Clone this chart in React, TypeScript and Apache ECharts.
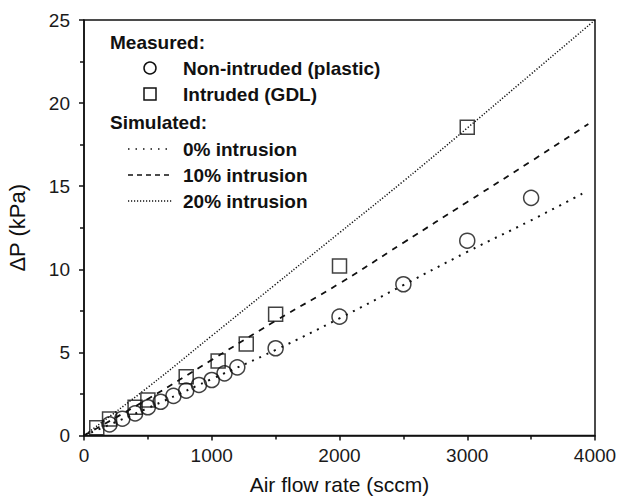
import React, { useEffect, useRef } from "react";
import * as echarts from "echarts";

const circleX = [200, 300, 400, 500, 600, 700, 800, 900, 1000, 1100, 1200, 1500, 2000, 2500, 3000, 3500];
const circleY = [0.67, 1.01, 1.33, 1.7, 2.03, 2.38, 2.7, 3.04, 3.34, 3.74, 4.1, 5.25, 7.15, 9.1, 11.72, 14.3];

const squareX = [100, 200, 400, 500, 800, 1050, 1270, 1500, 2000, 3000];
const squareY = [0.47, 1.0, 1.7, 2.14, 3.54, 4.48, 5.5, 7.29, 10.2, 18.54];

const sim0X = [0, 500, 1000, 1500, 2000, 2500, 3000, 3500, 3900];
const sim0Y = [0, 1.65, 3.4, 5.15, 7.05, 9.05, 11.05, 12.95, 14.55];

const sim10X = [0, 500, 1000, 1500, 2000, 2500, 3000, 3500, 3948];
const sim10Y = [0, 2.2, 4.55, 6.9, 9.15, 11.6, 14.05, 16.5, 18.74];

const sim20X = [0, 500, 1000, 1500, 2000, 2500, 3000, 3500, 4000];
const sim20Y = [0, 2.9, 6.0, 9.1, 12.2, 15.3, 18.5, 21.75, 25];

const legendTitles = ["Measured:", "Simulated:"];
const legendItems = ["Non-intruded (plastic)", "Intruded (GDL)", "0% intrusion", "10% intrusion", "20% intrusion"];

const zip = (xs: number[], ys: number[]) => xs.map((x, i) => [x, ys[i]]);

export default function App() {
  const ref = useRef<HTMLDivElement>(null);
  useEffect(() => {
    if (!ref.current) return;
    const chart = echarts.init(ref.current, undefined, { renderer: "svg" });
    const font = "Arial, 'Liberation Sans', sans-serif";
    const lx = 128, lx2 = 172, sx = 150, tx = 183;
    const rows = [42, 68, 94, 122, 149, 175, 201];
    const legendText = (x: number, y: number, t: string) => ({
      type: "text",
      x,
      y,
      style: { text: t, font: `bold 19px ${font}`, fill: "#111", textVerticalAlign: "middle" },
    });
    const tickStyle = { color: "#111", width: 1.5 };
    chart.setOption({
      animation: false,
      backgroundColor: "#fff",
      grid: {
        left: 84,
        right: 24,
        top: 20,
        bottom: 62.5,
        containLabel: false,
        outerBoundsMode: "none",
        show: true,
        borderColor: "#111",
        borderWidth: 1.5,
      },
      xAxis: {
        type: "value",
        min: 0,
        max: 4000,
        interval: 1000,
        name: "Air flow rate (sccm)",
        nameLocation: "middle",
        nameGap: 38,
        nameTextStyle: { fontSize: 21, color: "#111", fontFamily: font },
        axisLine: { show: true, onZero: false, lineStyle: tickStyle },
        axisTick: { show: true, inside: false, length: 5, lineStyle: tickStyle },
        minorTick: { show: true, splitNumber: 2, length: 4, lineStyle: tickStyle },
        axisLabel: { fontSize: 19, color: "#1a1a1a", fontFamily: font, margin: 10, formatter: (v: number) => String(v) },
        splitLine: { show: false },
      },
      yAxis: {
        type: "value",
        min: 0,
        max: 25,
        interval: 5,
        name: "ΔP (kPa)",
        nameLocation: "middle",
        nameGap: 56,
        nameTextStyle: { fontSize: 22, color: "#111", fontFamily: font },
        axisLine: { show: true, onZero: false, lineStyle: tickStyle },
        axisTick: { show: true, inside: false, length: 5, lineStyle: tickStyle },
        minorTick: { show: true, splitNumber: 2, length: 4, lineStyle: tickStyle },
        axisLabel: { fontSize: 19, color: "#1a1a1a", fontFamily: font, margin: 14, formatter: (v: number) => String(v) },
        splitLine: { show: false },
      },
      series: [
        {
          name: legendItems[2],
          type: "line",
          data: zip(sim0X, sim0Y),
          smooth: true,
          showSymbol: false,
          lineStyle: { color: "#111", width: 2, type: [2, 6] },
          z: 2,
        },
        {
          name: legendItems[3],
          type: "line",
          data: zip(sim10X, sim10Y),
          smooth: true,
          showSymbol: false,
          lineStyle: { color: "#111", width: 1.8, type: [6, 6] },
          z: 2,
        },
        {
          name: legendItems[4],
          type: "line",
          data: zip(sim20X, sim20Y),
          smooth: true,
          showSymbol: false,
          lineStyle: { color: "#111", width: 1.5, type: [1.2, 1.8] },
          z: 2,
        },
        {
          name: legendItems[0],
          type: "scatter",
          data: zip(circleX, circleY),
          symbol: "circle",
          symbolSize: 15,
          itemStyle: { color: "rgba(255,255,255,0)", borderColor: "#111", borderWidth: 1.5 },
          z: 3,
        },
        {
          name: legendItems[1],
          type: "scatter",
          data: zip(squareX, squareY),
          symbol: "rect",
          symbolSize: 14,
          itemStyle: { color: "rgba(255,255,255,0)", borderColor: "#111", borderWidth: 1.5 },
          z: 3,
        },
      ],
      graphic: [
        legendText(110, rows[0], legendTitles[0]),
        { type: "circle", shape: { cx: sx, cy: rows[1], r: 6 }, style: { fill: "none", stroke: "#111", lineWidth: 1.5 } },
        legendText(tx, rows[1], legendItems[0]),
        { type: "rect", shape: { x: sx - 6, y: rows[2] - 6, width: 12, height: 12 }, style: { fill: "none", stroke: "#111", lineWidth: 1.5 } },
        legendText(tx, rows[2], legendItems[1]),
        legendText(110, rows[3], legendTitles[1]),
        { type: "line", shape: { x1: lx, y1: rows[4], x2: lx2, y2: rows[4] }, style: { stroke: "#111", lineWidth: 1.5, lineDash: [1.5, 6] } },
        legendText(tx, rows[4], legendItems[2]),
        { type: "line", shape: { x1: lx, y1: rows[5], x2: lx2, y2: rows[5] }, style: { stroke: "#111", lineWidth: 1.5, lineDash: [5, 4] } },
        legendText(tx, rows[5], legendItems[3]),
        { type: "line", shape: { x1: lx, y1: rows[6], x2: lx2, y2: rows[6] }, style: { stroke: "#111", lineWidth: 1.5, lineDash: [1.2, 1.8] } },
        legendText(tx, rows[6], legendItems[4]),
      ],
    });
    return () => chart.dispose();
  }, []);
  return <div ref={ref} style={{ width: 619, height: 498, position: "absolute", left: 0, top: 0 }} />;
}
